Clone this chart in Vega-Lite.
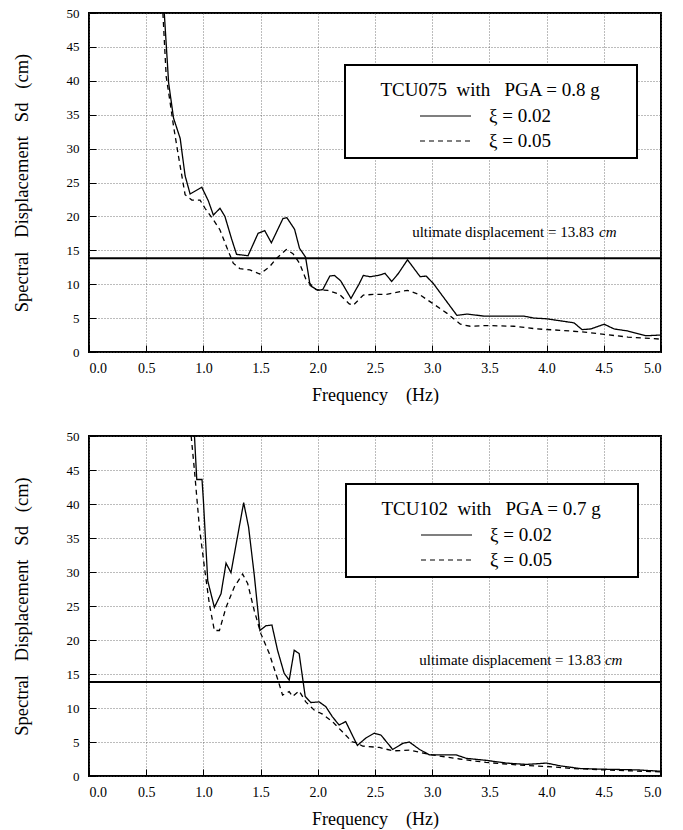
{
  "$schema": "https://vega.github.io/schema/vega-lite/v6.json",
  "padding": {"left": 11, "top": 6, "right": 5, "bottom": 8},
  "spacing": 24,
  "resolve": {"scale": {"strokeDash": "independent"}, "legend": {"strokeDash": "independent"}},
  "config": {
    "font": "Liberation Serif",
    "view": {"stroke": "black", "strokeWidth": 2},
    "axis": {
      "domain": false, "grid": true, "gridColor": "#555", "gridDash": [1, 2], "gridWidth": 0.8,
      "tickColor": "black", "tickSize": -7, "tickWidth": 1,
      "labelFont": "Liberation Serif", "labelFontSize": 14, "labelColor": "black", "labelPadding": 16,
      "titleFont": "Liberation Serif", "titleFontSize": 18, "titleFontWeight": "normal", "titleColor": "black"
    },
    "axisX": {"values": [0, 0.5, 1, 1.5, 2, 2.5, 3, 3.5, 4, 4.5, 5], "format": ".1f", "titlePadding": 11},
    "axisY": {"values": [0, 5, 10, 15, 20, 25, 30, 35, 40, 45, 50], "labelFontSize": 13, "labelPadding": 17, "titlePadding": 35, "titleFontSize": 18.5},
    "legend": {
      "orient": "none", "fillColor": "white", "strokeColor": "black", "strokeWidth": 2, "padding": 7,
      "titleFont": "Liberation Serif", "titleFontSize": 19, "titleFontWeight": "normal", "titleColor": "black", "titleLimit": 500,
      "titleBaseline": "line-top", "titleLineHeight": 37, "titlePadding": 15.5,
      "labelFont": "Liberation Serif", "labelFontSize": 19, "labelColor": "black", "labelOffset": 17,
      "symbolType": "stroke", "symbolSize": 2601, "symbolStrokeColor": "black", "symbolStrokeWidth": 1.2, "symbolOffset": 67,
      "clipHeight": 19, "rowPadding": 5
    }
  },
  "vconcat": [
    {
      "width": 572, "height": 339,
      "encoding": {
        "x": {"type": "quantitative", "scale": {"domain": [0, 5], "nice": false}, "title": "Frequency\u00a0\u00a0\u00a0\u00a0(Hz)"},
        "y": {"type": "quantitative", "scale": {"domain": [0, 50], "nice": false}, "title": "Spectral\u00a0\u00a0\u00a0Displacement\u00a0\u00a0\u00a0Sd\u00a0\u00a0\u00a0(cm)"}
      },
      "layer": [
        {
          "data": {"values": [
            {"f":0.658,"sd":50,"xi":"ξ = 0.02"},{"f":0.696,"sd":39.7,"xi":"ξ = 0.02"},{"f":0.739,"sd":34.5,"xi":"ξ = 0.02"},{"f":0.797,"sd":31.5,"xi":"ξ = 0.02"},{"f":0.84,"sd":26,"xi":"ξ = 0.02"},{"f":0.884,"sd":23.3,"xi":"ξ = 0.02"},{"f":0.986,"sd":24.3,"xi":"ξ = 0.02"},{"f":1.043,"sd":22.3,"xi":"ξ = 0.02"},{"f":1.087,"sd":20.2,"xi":"ξ = 0.02"},{"f":1.145,"sd":21.2,"xi":"ξ = 0.02"},{"f":1.188,"sd":20,"xi":"ξ = 0.02"},{"f":1.246,"sd":16.7,"xi":"ξ = 0.02"},{"f":1.29,"sd":14.4,"xi":"ξ = 0.02"},{"f":1.39,"sd":14.2,"xi":"ξ = 0.02"},{"f":1.478,"sd":17.5,"xi":"ξ = 0.02"},{"f":1.536,"sd":17.9,"xi":"ξ = 0.02"},{"f":1.594,"sd":16.1,"xi":"ξ = 0.02"},{"f":1.696,"sd":19.7,"xi":"ξ = 0.02"},{"f":1.73,"sd":19.8,"xi":"ξ = 0.02"},{"f":1.797,"sd":18.1,"xi":"ξ = 0.02"},{"f":1.84,"sd":15.3,"xi":"ξ = 0.02"},{"f":1.893,"sd":14.0,"xi":"ξ = 0.02"},{"f":1.933,"sd":9.8,"xi":"ξ = 0.02"},{"f":2.0,"sd":9.1,"xi":"ξ = 0.02"},{"f":2.043,"sd":9.2,"xi":"ξ = 0.02"},{"f":2.105,"sd":11.2,"xi":"ξ = 0.02"},{"f":2.145,"sd":11.3,"xi":"ξ = 0.02"},{"f":2.2,"sd":10.5,"xi":"ξ = 0.02"},{"f":2.29,"sd":7.9,"xi":"ξ = 0.02"},{"f":2.36,"sd":10,"xi":"ξ = 0.02"},{"f":2.398,"sd":11.3,"xi":"ξ = 0.02"},{"f":2.456,"sd":11.1,"xi":"ξ = 0.02"},{"f":2.53,"sd":11.3,"xi":"ξ = 0.02"},{"f":2.588,"sd":11.6,"xi":"ξ = 0.02"},{"f":2.646,"sd":10.4,"xi":"ξ = 0.02"},{"f":2.705,"sd":11.6,"xi":"ξ = 0.02"},{"f":2.784,"sd":13.6,"xi":"ξ = 0.02"},{"f":2.895,"sd":11.1,"xi":"ξ = 0.02"},{"f":2.947,"sd":11.2,"xi":"ξ = 0.02"},{"f":3.01,"sd":10.1,"xi":"ξ = 0.02"},{"f":3.216,"sd":5.4,"xi":"ξ = 0.02"},{"f":3.304,"sd":5.6,"xi":"ξ = 0.02"},{"f":3.45,"sd":5.3,"xi":"ξ = 0.02"},{"f":3.626,"sd":5.3,"xi":"ξ = 0.02"},{"f":3.8,"sd":5.3,"xi":"ξ = 0.02"},{"f":3.889,"sd":5.0,"xi":"ξ = 0.02"},{"f":4.0,"sd":4.9,"xi":"ξ = 0.02"},{"f":4.12,"sd":4.6,"xi":"ξ = 0.02"},{"f":4.24,"sd":4.3,"xi":"ξ = 0.02"},{"f":4.31,"sd":3.3,"xi":"ξ = 0.02"},{"f":4.386,"sd":3.4,"xi":"ξ = 0.02"},{"f":4.503,"sd":4.1,"xi":"ξ = 0.02"},{"f":4.59,"sd":3.4,"xi":"ξ = 0.02"},{"f":4.71,"sd":3.1,"xi":"ξ = 0.02"},{"f":4.87,"sd":2.4,"xi":"ξ = 0.02"},{"f":5.0,"sd":2.5,"xi":"ξ = 0.02"},
            {"f":0.646,"sd":50,"xi":"ξ = 0.05"},{"f":0.675,"sd":40.6,"xi":"ξ = 0.05"},{"f":0.71,"sd":36.7,"xi":"ξ = 0.05"},{"f":0.739,"sd":33.3,"xi":"ξ = 0.05"},{"f":0.783,"sd":28.8,"xi":"ξ = 0.05"},{"f":0.84,"sd":23.2,"xi":"ξ = 0.05"},{"f":0.899,"sd":22.4,"xi":"ξ = 0.05"},{"f":0.971,"sd":22.4,"xi":"ξ = 0.05"},{"f":1.014,"sd":21.2,"xi":"ξ = 0.05"},{"f":1.087,"sd":19.5,"xi":"ξ = 0.05"},{"f":1.145,"sd":18,"xi":"ξ = 0.05"},{"f":1.203,"sd":15.5,"xi":"ξ = 0.05"},{"f":1.261,"sd":13.1,"xi":"ξ = 0.05"},{"f":1.319,"sd":12.3,"xi":"ξ = 0.05"},{"f":1.406,"sd":12.1,"xi":"ξ = 0.05"},{"f":1.493,"sd":11.5,"xi":"ξ = 0.05"},{"f":1.58,"sd":12.6,"xi":"ξ = 0.05"},{"f":1.638,"sd":13.8,"xi":"ξ = 0.05"},{"f":1.725,"sd":15.1,"xi":"ξ = 0.05"},{"f":1.783,"sd":14.5,"xi":"ξ = 0.05"},{"f":1.84,"sd":13.1,"xi":"ξ = 0.05"},{"f":1.899,"sd":10.6,"xi":"ξ = 0.05"},{"f":1.986,"sd":9.2,"xi":"ξ = 0.05"},{"f":2.087,"sd":9.1,"xi":"ξ = 0.05"},{"f":2.19,"sd":8.5,"xi":"ξ = 0.05"},{"f":2.275,"sd":7.1,"xi":"ξ = 0.05"},{"f":2.31,"sd":6.9,"xi":"ξ = 0.05"},{"f":2.398,"sd":8.4,"xi":"ξ = 0.05"},{"f":2.5,"sd":8.5,"xi":"ξ = 0.05"},{"f":2.602,"sd":8.5,"xi":"ξ = 0.05"},{"f":2.72,"sd":8.9,"xi":"ξ = 0.05"},{"f":2.784,"sd":9.1,"xi":"ξ = 0.05"},{"f":2.895,"sd":8.4,"xi":"ξ = 0.05"},{"f":3.01,"sd":7.1,"xi":"ξ = 0.05"},{"f":3.13,"sd":5.7,"xi":"ξ = 0.05"},{"f":3.246,"sd":4.1,"xi":"ξ = 0.05"},{"f":3.333,"sd":3.8,"xi":"ξ = 0.05"},{"f":3.48,"sd":3.9,"xi":"ξ = 0.05"},{"f":3.713,"sd":3.8,"xi":"ξ = 0.05"},{"f":3.918,"sd":3.4,"xi":"ξ = 0.05"},{"f":4.12,"sd":3.2,"xi":"ξ = 0.05"},{"f":4.357,"sd":2.9,"xi":"ξ = 0.05"},{"f":4.503,"sd":2.6,"xi":"ξ = 0.05"},{"f":4.71,"sd":2.2,"xi":"ξ = 0.05"},{"f":5.0,"sd":1.9,"xi":"ξ = 0.05"}
          ]},
          "mark": {"type": "line", "clip": true, "color": "black", "strokeWidth": 1.3},
          "encoding": {
            "x": {"field": "f", "type": "quantitative"},
            "y": {"field": "sd", "type": "quantitative"},
            "strokeDash": {"field": "xi", "type": "nominal",
              "scale": {"domain": ["ξ = 0.02", "ξ = 0.05"], "range": [[1, 0], [5, 4]]},
              "legend": {"title": "\u200b\u00a0\u00a0\u00a0\u00a0\u00a0\u00a0TCU075\u00a0\u00a0with\u00a0\u00a0\u00a0PGA = 0.8 g\u00a0\u00a0\u00a0\u00a0\u00a0\u00a0\u200b", "legendX": 256, "legendY": 52}}
          }
        },
        {
          "data": {"values": [{}]},
          "mark": {"type": "rule", "color": "black", "strokeWidth": 2},
          "encoding": {"y": {"datum": 13.83}}
        },
        {
          "data": {"values": [{}]},
          "mark": {"type": "text", "align": "right", "baseline": "alphabetic", "fontSize": 15, "font": "Liberation Serif", "color": "black"},
          "encoding": {"x": {"datum": 4.414}, "y": {"datum": 17}, "text": {"value": "ultimate displacement = 13.83"}}
        },
        {
          "data": {"values": [{}]},
          "mark": {"type": "text", "align": "left", "baseline": "alphabetic", "fontSize": 15, "font": "Liberation Serif", "fontStyle": "italic", "color": "black"},
          "encoding": {"x": {"datum": 4.458}, "y": {"datum": 17}, "text": {"value": "cm"}}
        }
      ]
    },
    {
      "width": 572, "height": 340,
      "encoding": {
        "x": {"type": "quantitative", "scale": {"domain": [0, 5], "nice": false}, "title": "Frequency\u00a0\u00a0\u00a0\u00a0(Hz)"},
        "y": {"type": "quantitative", "scale": {"domain": [0, 50], "nice": false}, "title": "Spectral\u00a0\u00a0\u00a0Displacement\u00a0\u00a0\u00a0Sd\u00a0\u00a0\u00a0(cm)"}
      },
      "layer": [
        {
          "data": {"values": [
            {"f":0.922,"sd":50,"xi":"ξ = 0.02"},{"f":0.942,"sd":43.6,"xi":"ξ = 0.02"},{"f":0.988,"sd":43.6,"xi":"ξ = 0.02"},{"f":1.0,"sd":40.5,"xi":"ξ = 0.02"},{"f":1.038,"sd":28.7,"xi":"ξ = 0.02"},{"f":1.096,"sd":24.8,"xi":"ξ = 0.02"},{"f":1.154,"sd":26.8,"xi":"ξ = 0.02"},{"f":1.198,"sd":31.3,"xi":"ξ = 0.02"},{"f":1.241,"sd":29.9,"xi":"ξ = 0.02"},{"f":1.352,"sd":40.2,"xi":"ξ = 0.02"},{"f":1.395,"sd":36.6,"xi":"ξ = 0.02"},{"f":1.445,"sd":29.5,"xi":"ξ = 0.02"},{"f":1.494,"sd":21.4,"xi":"ξ = 0.02"},{"f":1.547,"sd":22.1,"xi":"ξ = 0.02"},{"f":1.599,"sd":22.2,"xi":"ξ = 0.02"},{"f":1.648,"sd":18.5,"xi":"ξ = 0.02"},{"f":1.706,"sd":15.1,"xi":"ξ = 0.02"},{"f":1.75,"sd":14.1,"xi":"ξ = 0.02"},{"f":1.794,"sd":18.5,"xi":"ξ = 0.02"},{"f":1.837,"sd":18,"xi":"ξ = 0.02"},{"f":1.89,"sd":11.7,"xi":"ξ = 0.02"},{"f":1.939,"sd":10.8,"xi":"ξ = 0.02"},{"f":2.012,"sd":10.9,"xi":"ξ = 0.02"},{"f":2.07,"sd":10.2,"xi":"ξ = 0.02"},{"f":2.128,"sd":8.7,"xi":"ξ = 0.02"},{"f":2.186,"sd":7.5,"xi":"ξ = 0.02"},{"f":2.244,"sd":8.0,"xi":"ξ = 0.02"},{"f":2.302,"sd":6.0,"xi":"ξ = 0.02"},{"f":2.346,"sd":4.5,"xi":"ξ = 0.02"},{"f":2.421,"sd":5.6,"xi":"ξ = 0.02"},{"f":2.494,"sd":6.3,"xi":"ξ = 0.02"},{"f":2.553,"sd":6.0,"xi":"ξ = 0.02"},{"f":2.655,"sd":3.9,"xi":"ξ = 0.02"},{"f":2.743,"sd":4.8,"xi":"ξ = 0.02"},{"f":2.8,"sd":5.0,"xi":"ξ = 0.02"},{"f":2.89,"sd":3.9,"xi":"ξ = 0.02"},{"f":2.977,"sd":3.1,"xi":"ξ = 0.02"},{"f":3.123,"sd":3.1,"xi":"ξ = 0.02"},{"f":3.21,"sd":3.1,"xi":"ξ = 0.02"},{"f":3.298,"sd":2.6,"xi":"ξ = 0.02"},{"f":3.473,"sd":2.3,"xi":"ξ = 0.02"},{"f":3.649,"sd":1.9,"xi":"ξ = 0.02"},{"f":3.824,"sd":1.7,"xi":"ξ = 0.02"},{"f":4.0,"sd":1.9,"xi":"ξ = 0.02"},{"f":4.117,"sd":1.5,"xi":"ξ = 0.02"},{"f":4.292,"sd":1.1,"xi":"ξ = 0.02"},{"f":4.497,"sd":1.0,"xi":"ξ = 0.02"},{"f":4.79,"sd":0.9,"xi":"ξ = 0.02"},{"f":5.0,"sd":0.7,"xi":"ξ = 0.02"},
            {"f":0.893,"sd":50,"xi":"ξ = 0.05"},{"f":0.922,"sd":44.9,"xi":"ξ = 0.05"},{"f":0.965,"sd":36.6,"xi":"ξ = 0.05"},{"f":1.009,"sd":30.7,"xi":"ξ = 0.05"},{"f":1.052,"sd":25.3,"xi":"ξ = 0.05"},{"f":1.096,"sd":21.4,"xi":"ξ = 0.05"},{"f":1.14,"sd":21.4,"xi":"ξ = 0.05"},{"f":1.198,"sd":24.8,"xi":"ξ = 0.05"},{"f":1.27,"sd":27.8,"xi":"ξ = 0.05"},{"f":1.343,"sd":29.7,"xi":"ξ = 0.05"},{"f":1.387,"sd":28.3,"xi":"ξ = 0.05"},{"f":1.445,"sd":24.3,"xi":"ξ = 0.05"},{"f":1.503,"sd":20.9,"xi":"ξ = 0.05"},{"f":1.576,"sd":18.0,"xi":"ξ = 0.05"},{"f":1.648,"sd":14.3,"xi":"ξ = 0.05"},{"f":1.692,"sd":11.9,"xi":"ξ = 0.05"},{"f":1.75,"sd":12.4,"xi":"ξ = 0.05"},{"f":1.779,"sd":11.7,"xi":"ξ = 0.05"},{"f":1.837,"sd":12.5,"xi":"ξ = 0.05"},{"f":1.895,"sd":10.9,"xi":"ξ = 0.05"},{"f":1.968,"sd":9.7,"xi":"ξ = 0.05"},{"f":2.041,"sd":9.1,"xi":"ξ = 0.05"},{"f":2.128,"sd":8.0,"xi":"ξ = 0.05"},{"f":2.215,"sd":6.5,"xi":"ξ = 0.05"},{"f":2.302,"sd":5.0,"xi":"ξ = 0.05"},{"f":2.333,"sd":4.9,"xi":"ξ = 0.05"},{"f":2.392,"sd":4.4,"xi":"ξ = 0.05"},{"f":2.538,"sd":4.2,"xi":"ξ = 0.05"},{"f":2.655,"sd":3.7,"xi":"ξ = 0.05"},{"f":2.8,"sd":3.8,"xi":"ξ = 0.05"},{"f":3.0,"sd":3.1,"xi":"ξ = 0.05"},{"f":3.24,"sd":2.5,"xi":"ξ = 0.05"},{"f":3.47,"sd":2.0,"xi":"ξ = 0.05"},{"f":3.76,"sd":1.6,"xi":"ξ = 0.05"},{"f":4.0,"sd":1.4,"xi":"ξ = 0.05"},{"f":4.23,"sd":1.1,"xi":"ξ = 0.05"},{"f":4.497,"sd":0.9,"xi":"ξ = 0.05"},{"f":5.0,"sd":0.6,"xi":"ξ = 0.05"}
          ]},
          "mark": {"type": "line", "clip": true, "color": "black", "strokeWidth": 1.3},
          "encoding": {
            "x": {"field": "f", "type": "quantitative"},
            "y": {"field": "sd", "type": "quantitative"},
            "strokeDash": {"field": "xi", "type": "nominal",
              "scale": {"domain": ["ξ = 0.02", "ξ = 0.05"], "range": [[1, 0], [5, 4]]},
              "legend": {"title": "\u200b\u00a0\u00a0\u00a0\u00a0\u00a0\u00a0TCU102\u00a0\u00a0with\u00a0\u00a0\u00a0PGA = 0.7 g\u00a0\u00a0\u00a0\u00a0\u00a0\u00a0\u200b", "legendX": 257, "legendY": 48}}
          }
        },
        {
          "data": {"values": [{}]},
          "mark": {"type": "rule", "color": "black", "strokeWidth": 2},
          "encoding": {"y": {"datum": 13.83}}
        },
        {
          "data": {"values": [{}]},
          "mark": {"type": "text", "align": "right", "baseline": "alphabetic", "fontSize": 15, "font": "Liberation Serif", "color": "black"},
          "encoding": {"x": {"datum": 4.476}, "y": {"datum": 16.3}, "text": {"value": "ultimate displacement = 13.83"}}
        },
        {
          "data": {"values": [{}]},
          "mark": {"type": "text", "align": "left", "baseline": "alphabetic", "fontSize": 15, "font": "Liberation Serif", "fontStyle": "italic", "color": "black"},
          "encoding": {"x": {"datum": 4.51}, "y": {"datum": 16.3}, "text": {"value": "cm"}}
        }
      ]
    }
  ]
}
